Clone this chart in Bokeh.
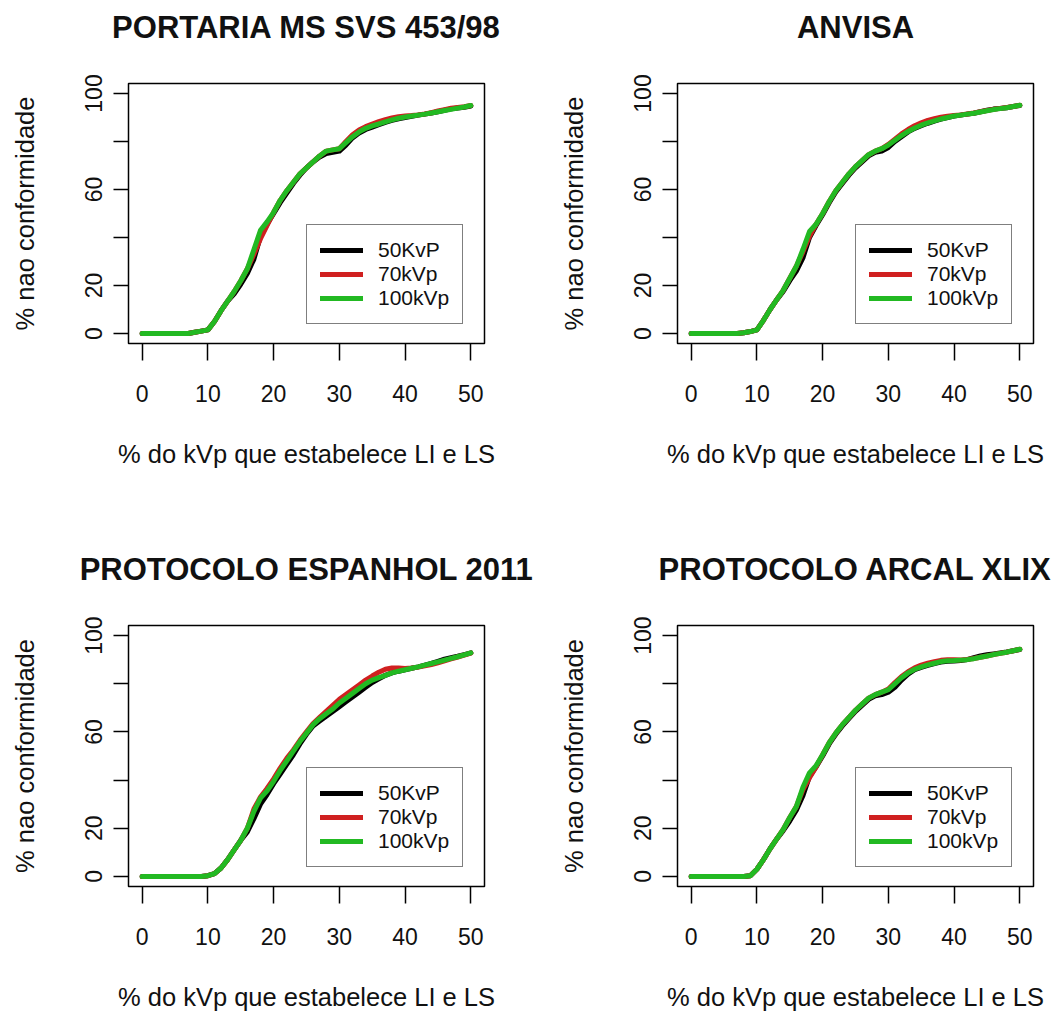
from bokeh.plotting import figure
from bokeh.models import Range1d, FixedTicker, Legend, LegendItem
from bokeh.layouts import gridplot
from bokeh.embed import file_html
from bokeh.resources import INLINE

# ---------------- data ----------------
X = list(range(51))

titles = ["PORTARIA MS SVS 453/98", "ANVISA",
          "PROTOCOLO ESPANHOL 2011", "PROTOCOLO ARCAL XLIX"]
series_labels = ["50KvP", "70kVp", "100kVp"]
x_label = "% do kVp que estabelece LI e LS"
y_label = "% nao conformidade"
x_ticks = [0, 10, 20, 30, 40, 50]
y_ticks = [0, 20, 40, 60, 80, 100]
y_tick_text = {0: "0", 20: "20", 40: "", 60: "60", 80: "", 100: "100"}

portaria_50 = [0,0,0,0,0,0,0,0,0.5,1, 1.5,5,9.5,13.5,16.5,20.5,25,31,40.5,45.5,
               50,54.5,58.5,62.5,66,69,71.5,73.5,75,75.5, 76,78.5,81.5,83.5,85,86,87,88,88.8,89.5,
               90,90.5,91,91.4,91.9,92.4,93,93.6,94,94.3, 94.8]
portaria_70 = [0,0,0,0,0,0,0,0,0.5,1, 1.5,5,9.5,13.5,17.5,22,27,33,39.5,45,
               50.5,55.5,59.5,63,66.5,69,71.5,74,76,76.5, 77,80,82.8,84.8,86.2,87.3,88.3,89.1,89.8,90.3,
               90.6,90.8,91.1,91.5,92,92.7,93.3,93.9,94.2,94.5, 95]
portaria_100 = [0,0,0,0,0,0,0,0,0.5,1, 1.5,5,9.5,13.5,17.5,22,27,35,43,46.5,
                50.5,55.5,59.5,63,66.5,69,71.5,74,76,76.5, 77,79.5,82,84,85.5,86.5,87.3,88.2,89,89.7,
                90.2,90.6,91,91.4,91.9,92.4,92.9,93.4,93.9,94.4, 95]

anvisa_50 = [0,0,0,0,0,0,0,0,0.3,0.8, 1.5,5.5,10,14,17.5,22,26,31.5,40,45,
             49.5,54.5,59,62.5,66,69,71.5,74,75.5,76, 77.5,80,82,84,85.5,86.6,87.6,88.5,89.3,90,
             90.6,91,91.4,91.8,92.4,93,93.5,93.8,94.1,94.6, 95]
anvisa_70 = [0,0,0,0,0,0,0,0,0.3,0.8, 1.5,5.5,10,14,18,23,28,34,40.5,45.5,
             50,55,59.5,63,66.5,69.5,72,74.5,76,77, 78.8,81,83.2,85,86.6,87.8,88.8,89.5,90.1,90.5,
             90.8,91.1,91.5,91.9,92.4,92.9,93.4,93.8,94.2,94.6, 95.1]
anvisa_100 = [0,0,0,0,0,0,0,0,0.3,0.8, 1.5,5.5,10,14,18,23,28,35,42.5,45.5,
              50,55,59.5,63,66.5,69.5,72,74.5,76,77, 78.5,80.5,82.5,84.2,85.6,86.8,87.8,88.6,89.4,90,
              90.6,91,91.4,91.8,92.3,92.8,93.3,93.7,94.1,94.6, 95.1]

espanhol_50 = [0,0,0,0,0,0,0,0,0,0, 0.3,1.2,3.5,7,11,15,18.5,24,30,34,
               38.5,42.5,46.5,50.5,55,59,62.5,64.5,66.5,68.5, 70.5,72.5,74.5,76.5,78.5,80.5,82,83.5,84.5,85.2,
               85.8,86.4,87,87.7,88.4,89.3,90.2,90.8,91.4,92.1, 92.8]
espanhol_70 = [0,0,0,0,0,0,0,0,0,0, 0.3,1.2,3.5,7,11,15,20,28,33,36.5,
               40.5,45,49,52.5,56.5,60,63.5,66,68.5,71, 73.5,75.5,77.5,79.5,81.5,83.2,84.8,86,86.5,86.5,
               86.3,86.5,86.9,87.4,88,88.7,89.5,90.3,91.1,91.9, 92.7]
espanhol_100 = [0,0,0,0,0,0,0,0,0,0, 0.3,1.2,3.5,7,11,15,20,27,32.5,35.5,
                39.5,44,48,52,56,59.5,63,65.5,67.5,69.5, 72,74,76,78,80,81.5,82.5,83.5,84.5,85.2,
                85.8,86.4,87,87.7,88.4,89.1,89.8,90.5,91.2,92, 92.8]

arcal_50 = [0,0,0,0,0,0,0,0,0,0.3, 3,7,11.5,15.5,19,23,27.5,33.5,41.5,45.5,
            50,55,59,62.5,65.5,68.5,71,73.5,75,75.5, 76.5,78.5,81.5,84,85.8,86.8,87.6,88.4,89,89.3,
            89.4,89.6,90,90.8,91.5,92,92.4,92.8,93.2,93.7, 94.2]
arcal_70 = [0,0,0,0,0,0,0,0,0,0.3, 3,7,11.5,15.5,19.5,24.5,29,36,41,45.5,
            50.5,55.5,59.5,63,66,69,71.5,74,75.5,76.5, 77.8,80.5,83,85,86.6,87.7,88.5,89.1,89.7,90,
            90,89.9,90.1,90.5,91,91.5,92.1,92.6,93.1,93.7, 94.3]
arcal_100 = [0,0,0,0,0,0,0,0,0,0.3, 3,7,11.5,15.5,19.5,24.5,29,37,43,46,
             50.5,55.5,59.5,63,66,69,71.5,74,75.5,76.5, 77.5,80,82.5,84.5,86,87,87.8,88.5,89.2,89.5,
             89.6,89.8,90,90.4,91,91.5,92.1,92.6,93.1,93.7, 94.3]

panels_data = [
    [portaria_50, portaria_70, portaria_100],
    [anvisa_50, anvisa_70, anvisa_100],
    [espanhol_50, espanhol_70, espanhol_100],
    [arcal_50, arcal_70, arcal_100],
]

# ---------------- style ----------------
FONT = "Liberation Sans"
COLORS = ["#000000", "#d02020", "#22b922"]
TXT = "#111111"


def make_panel(title, series, border_left, border_right, border_bottom, frame_h):
    p = figure(frame_width=356, frame_height=frame_h,
               x_range=Range1d(-2.08, 52.08), y_range=Range1d(-4.17, 104.17),
               output_backend="svg", toolbar_location=None, tools="",
               min_border_left=border_left, min_border_right=border_right,
               min_border_top=83, min_border_bottom=border_bottom,
               title=title + "\n")
    p.background_fill_color = "white"
    p.border_fill_color = "white"
    p.outline_line_color = "black"
    p.outline_line_width = 1.5
    p.xgrid.visible = False
    p.ygrid.visible = False

    p.title.text_font = FONT
    p.title.text_font_size = "31px"
    p.title.text_font_style = "bold"
    p.title.text_color = TXT
    p.title.align = "center"
    p.title.standoff = 8

    for ax in (p.xaxis[0], p.yaxis[0]):
        ax.axis_line_color = None
        ax.major_tick_line_color = "black"
        ax.major_tick_line_width = 1.5
        ax.major_tick_in = 0
        ax.minor_tick_line_color = None
        ax.major_label_text_font = FONT
        ax.major_label_text_font_size = "23px"
        ax.major_label_text_color = TXT
        ax.axis_label_text_font = FONT
        ax.axis_label_text_font_size = "25.5px"
        ax.axis_label_text_font_style = "normal"
        ax.axis_label_text_color = TXT

    xa = p.xaxis[0]
    xa.ticker = FixedTicker(ticks=x_ticks)
    xa.major_tick_out = 17
    xa.major_label_standoff = 24
    xa.axis_label = x_label
    xa.axis_label_standoff = 35

    ya = p.yaxis[0]
    ya.ticker = FixedTicker(ticks=y_ticks)
    ya.major_label_overrides = y_tick_text
    ya.major_label_orientation = "vertical"
    ya.major_tick_out = 15
    ya.major_label_standoff = 11
    ya.axis_label = y_label
    ya.axis_label_standoff = 44

    items = []
    for ys, col, lab in zip(series, COLORS, series_labels):
        r = p.line(X, ys, line_color=col, line_width=5,
                   line_cap="round", line_join="round")
        items.append(LegendItem(label=lab, renderers=[r]))

    leg = Legend(items=items, location=(178, 19))
    leg.margin = 0
    leg.padding = 13
    leg.spacing = 0
    leg.glyph_width = 43
    leg.glyph_height = 24
    leg.label_height = 24
    leg.label_standoff = 15
    leg.label_text_font = FONT
    leg.label_text_font_size = "21px"
    leg.label_text_color = TXT
    leg.border_line_color = "black"
    leg.border_line_width = 1.5
    leg.background_fill_color = "white"
    leg.background_fill_alpha = 1.0
    p.add_layout(leg)
    return p


p1 = make_panel(titles[0], panels_data[0], 128, 63, 199, 260)
p2 = make_panel(titles[1], panels_data[1], 130, 28, 199, 260)
p3 = make_panel(titles[2], panels_data[2], 128, 63, 126, 261)
p4 = make_panel(titles[3], panels_data[3], 130, 28, 126, 261)

grid = gridplot([[p1, p2], [p3, p4]], toolbar_location=None)

open("out.html", "w").write(file_html(grid, INLINE))
